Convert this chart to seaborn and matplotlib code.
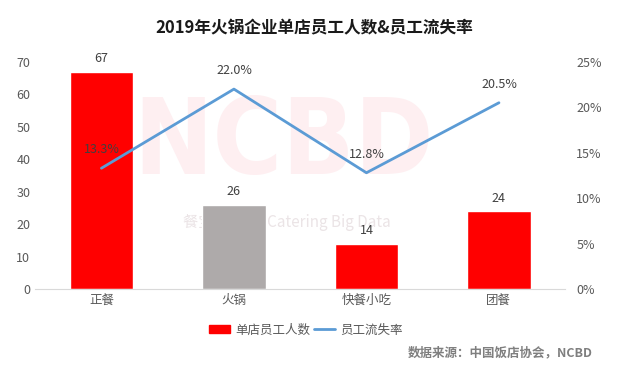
import numpy as np
import pandas as pd
import matplotlib
matplotlib.use("Agg")
import matplotlib.pyplot as plt
import seaborn as sns
from matplotlib.patches import Patch
from matplotlib.lines import Line2D

categories = ['正餐', '火锅', '快餐小吃', '团餐']
staff = [67, 26, 14, 24]
turnover = [13.3, 22.0, 12.8, 20.5]
bar_colors = ['#FF0000', '#AEAAAA', '#FF0000', '#FF0000']

sns.set_style('white')
plt.rcParams['font.family'] = ['Noto Sans CJK SC', 'DejaVu Sans']

fig = plt.figure(figsize=(6.28, 3.77), dpi=100)
ax = fig.add_axes([0.056, 0.233, 0.844, 0.603])

# watermark, kept behind the bars
ax.text(0.452, 0.615, 'NCBD', transform=fig.transFigure, fontsize=76, fontweight='bold',
        fontstretch='condensed', color='#FEEFF1', ha='center', va='center', zorder=0.2,
        family=['DejaVu Sans'])
ax.text(0.457, 0.41, '餐宝典 New Catering Big Data', transform=fig.transFigure, fontsize=11,
        color='#EBE4E6', ha='center', va='center', zorder=0.2)

df = pd.DataFrame({'cat': categories, 'staff': staff})
sns.barplot(data=df, x='cat', y='staff', hue='cat', palette=bar_colors,
            legend=False, width=0.48, ax=ax, saturation=1, zorder=2)
ax.set_ylim(0, 70)
ax.set_yticks(range(0, 71, 10))
ax.set_xlabel('')
ax.set_ylabel('')
for i, v in enumerate(staff):
    ax.text(i, v + 2, str(v), ha='center', va='bottom', fontsize=9, color='#404040')

for s in ['top', 'right', 'left']:
    ax.spines[s].set_visible(False)
ax.spines['bottom'].set_color('#D9D9D9')
ax.tick_params(axis='both', length=0, labelsize=9, colors='#595959')

ax2 = ax.twinx()
ax2.patch.set_alpha(0)
sns.lineplot(x=np.arange(len(categories)), y=turnover, color='#5B9BD5', linewidth=2, ax=ax2)
ax2.set_ylim(0, 25)
ax2.set_yticks(range(0, 26, 5))
ax2.set_yticklabels([f'{t}%' for t in range(0, 26, 5)])
for s in ['top', 'right', 'left', 'bottom']:
    ax2.spines[s].set_visible(False)
ax2.tick_params(axis='y', length=0, labelsize=9, colors='#595959', pad=8)
for i, v in enumerate(turnover):
    ax2.text(i, v + 1.3, f'{v:.1f}%', ha='center', va='bottom', fontsize=9, color='#404040')
ax.set_xlim(-0.5, 3.5)

fig.text(0.5, 0.925, '2019年火锅企业单店员工人数&员工流失率', ha='center', va='center',
         fontsize=12, fontweight='bold', color='#1A1A1A')

handles = [Patch(color='#FF0000'), Line2D([0], [0], color='#5B9BD5', linewidth=2)]
fig.legend(handles, ['单店员工人数', '员工流失率'], loc='center', bbox_to_anchor=(0.487, 0.125),
           ncol=2, frameon=False, fontsize=9, handlelength=1.7, handletextpad=0.4,
           columnspacing=0.3, labelcolor='#595959')
fig.text(0.943, 0.065, '数据来源：中国饭店协会，NCBD', ha='right', va='center',
         fontsize=9, fontweight='bold', color='#7F7F7F')

fig.savefig('out.png', dpi=100)
